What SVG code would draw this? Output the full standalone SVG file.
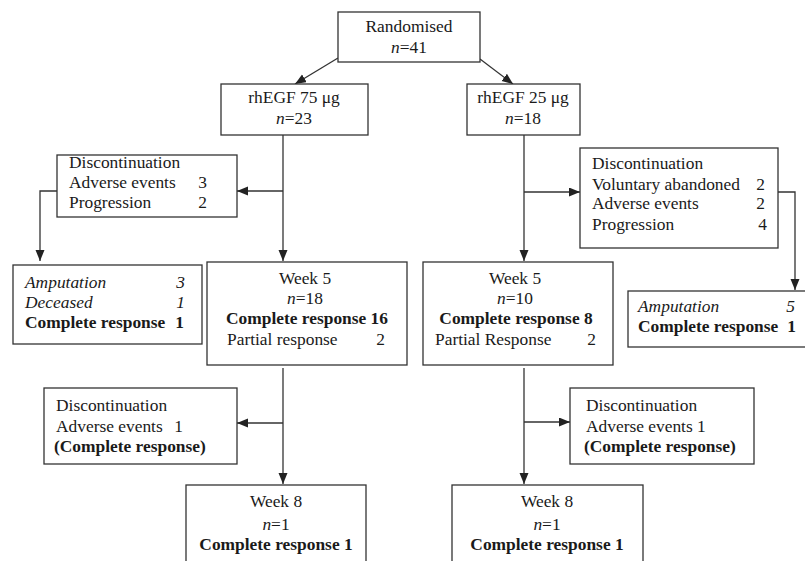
<svg xmlns="http://www.w3.org/2000/svg" width="805" height="561" viewBox="0 0 805 561">
<style>
text{font-family:"Liberation Serif","Times New Roman",serif;font-size:17.4px;fill:#1a1a1a}
.b{font-weight:bold}
.i{font-style:italic}
.c{text-anchor:middle}
.e{text-anchor:end}
rect{fill:#fff;stroke:#333;stroke-width:1.3}
#connectors path{fill:none;stroke:#333;stroke-width:1.3}
</style>
<defs>
<marker id="ah" markerUnits="userSpaceOnUse" markerWidth="12" markerHeight="10" refX="11" refY="4.5" orient="auto">
<path d="M0,0 L11,4.5 L0,9 z" fill="#222"/>
</marker>
</defs>
<rect x="0" y="0" width="805" height="561" style="fill:#fff;stroke:none"/>
<g id="connectors">
<path d="M338,58 L295,84" marker-end="url(#ah)"/>
<path d="M480,59 L513,84" marker-end="url(#ah)"/>
<path d="M283,135 L283,261" marker-end="url(#ah)"/>
<path d="M283,191 L237,191" marker-end="url(#ah)"/>
<path d="M57,191 L40,191 L40,261" marker-end="url(#ah)"/>
<path d="M524,135 L524,261" marker-end="url(#ah)"/>
<path d="M524,192 L580,192" marker-end="url(#ah)"/>
<path d="M778,192 L795,192 L795,290" marker-end="url(#ah)"/>
<path d="M283,368 L283,484" marker-end="url(#ah)"/>
<path d="M283,423 L237,423" marker-end="url(#ah)"/>
<path d="M524,368 L524,484" marker-end="url(#ah)"/>
<path d="M524,422 L570,422" marker-end="url(#ah)"/>
</g>
<g id="randomised">
<rect x="338" y="12" width="142" height="50"/>
<text class="c" x="409" y="32">Randomised</text>
<text class="c" x="409" y="53"><tspan class="i">n</tspan>=41</text>
</g>
<g id="rhegf75">
<rect x="221" y="84" width="147" height="51"/>
<text class="c" x="294" y="103">rhEGF 75 μg</text>
<text class="c" x="294" y="124"><tspan class="i">n</tspan>=23</text>
</g>
<g id="rhegf25">
<rect x="467" y="84" width="113" height="51"/>
<text class="c" x="523" y="103">rhEGF 25 μg</text>
<text class="c" x="523" y="124"><tspan class="i">n</tspan>=18</text>
</g>
<g id="disc75">
<rect x="57" y="155" width="180" height="62"/>
<text x="69" y="168">Discontinuation</text>
<text x="69" y="188">Adverse events</text>
<text class="e" x="207" y="188">3</text>
<text x="69" y="208">Progression</text>
<text class="e" x="207" y="208">2</text>
</g>
<g id="out75">
<rect x="13" y="265" width="189" height="79"/>
<text class="i" x="25" y="288">Amputation</text>
<text class="i e" x="185" y="288">3</text>
<text class="i" x="25" y="308">Deceased</text>
<text class="i e" x="185" y="308">1</text>
<text class="b" x="25" y="328">Complete response</text>
<text class="b e" x="184" y="328">1</text>
</g>
<g id="week5a">
<rect x="207" y="262" width="200" height="103"/>
<text class="c" x="305" y="284">Week 5</text>
<text class="c" x="305" y="304"><tspan class="i">n</tspan>=18</text>
<text class="b c" x="307" y="324">Complete response 16</text>
<text x="227" y="345">Partial response</text>
<text class="e" x="385" y="345">2</text>
</g>
<g id="disc25">
<rect x="580" y="148" width="198" height="100"/>
<text x="592" y="169">Discontinuation</text>
<text x="592" y="190">Voluntary abandoned</text>
<text class="e" x="765" y="190">2</text>
<text x="592" y="209">Adverse events</text>
<text class="e" x="765" y="209">2</text>
<text x="592" y="230">Progression</text>
<text class="e" x="767" y="230">4</text>
</g>
<g id="out25">
<rect x="628" y="291" width="190" height="56"/>
<text class="i" x="638" y="312">Amputation</text>
<text class="i e" x="795" y="312">5</text>
<text class="b" x="638" y="332">Complete response</text>
<text class="b e" x="796" y="332">1</text>
</g>
<g id="week5b">
<rect x="423" y="262" width="190" height="103"/>
<text class="c" x="515" y="284">Week 5</text>
<text class="c" x="515" y="304"><tspan class="i">n</tspan>=10</text>
<text class="b c" x="516" y="324">Complete response 8</text>
<text x="435" y="345">Partial Response</text>
<text class="e" x="596" y="345">2</text>
</g>
<g id="disc75b">
<rect x="44" y="388" width="193" height="76"/>
<text x="56" y="411">Discontinuation</text>
<text x="56" y="432">Adverse events</text>
<text class="e" x="183" y="432">1</text>
<text class="b" x="54" y="452">(Complete response)</text>
</g>
<g id="disc25b">
<rect x="570" y="388" width="184" height="76"/>
<text x="586" y="411">Discontinuation</text>
<text x="586" y="432">Adverse events 1</text>
<text class="b" x="584" y="452">(Complete response)</text>
</g>
<g id="week8a">
<rect x="186" y="485" width="180" height="90"/>
<text class="c" x="276" y="507">Week 8</text>
<text class="c" x="276" y="530"><tspan class="i">n</tspan>=1</text>
<text class="b c" x="276" y="550">Complete response 1</text>
</g>
<g id="week8b">
<rect x="452" y="485" width="191" height="90"/>
<text class="c" x="547" y="507">Week 8</text>
<text class="c" x="547" y="530"><tspan class="i">n</tspan>=1</text>
<text class="b c" x="547" y="550">Complete response 1</text>
</g>
</svg>
